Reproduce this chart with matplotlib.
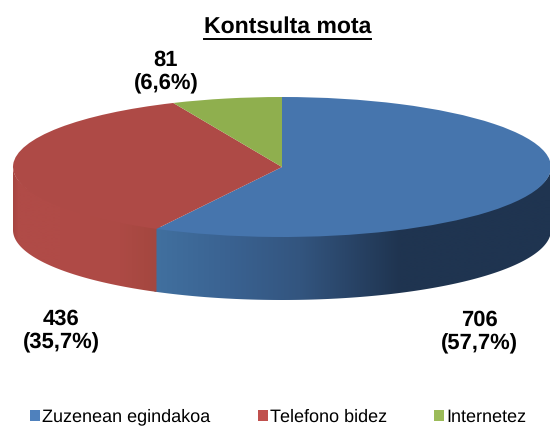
import numpy as np
import matplotlib
matplotlib.use('Agg')
import matplotlib.pyplot as plt
from matplotlib.patches import Polygon, Rectangle

plt.rcParams['font.family'] = ['Liberation Sans', 'DejaVu Sans']
plt.rcParams['text.hinting'] = 'none'
plt.rcParams['text.hinting_factor'] = 1

title = 'Kontsulta mota'
categories = ['Zuzenean egindakoa', 'Telefono bidez', 'Internetez']
values = [706, 436, 81]
top_colors = ['#4675AD', '#AE4A46', '#8FAF4E']
legend_colors = ['#4F81BD', '#C0504D', '#9BBB59']

# ellipse geometry in pixels
cx, cy = 282, 167
rx, ry = 269, 70
depth = 63 / ry

fig = plt.figure(figsize=(5.5, 4.26), dpi=100)
ax = fig.add_axes([0, 0, 1, 1])

wedges, _ = ax.pie(values, colors=top_colors, startangle=90, counterclock=False,
                   radius=1, center=(0, 0), wedgeprops={'linewidth': 0, 'zorder': 5})
ax.set_aspect('auto')


# px position on figure -> data units
def px(x):
    return (x - cx) / rx


def py(y):
    return (cy - y) / ry


# side wall gradients: (x pixel, rgb) stops per slice
side_stops = [
    ([156, 230, 300, 400, 550], ['#41709F', '#3A6291', '#33557F', '#1F3450', '#1F3450']),
    ([12, 18, 60, 120, 156], ['#A5443F', '#B04B47', '#B04B47', '#AD4A45', '#A4473F']),
]

total = sum(values)
start = 0.0
for i, v in enumerate(values[:2]):
    a0 = start
    a1 = start + v / total * 360
    start = a1
    # only the front half of the cake shows its wall
    lo = max(a0, 90)
    hi = min(a1, 270)
    if i == 0:
        hi += 0.5  # runs under the red wall so no seam shows
    t = np.radians(np.linspace(lo, hi, 200))
    xs = np.sin(t)
    ys = np.cos(t)
    # top arc pulled slightly inside so it sits under the pie top
    pts = np.r_[np.c_[xs, ys * 0.96], np.c_[xs, ys - depth][::-1]]
    poly = Polygon(pts, closed=True, facecolor='none', edgecolor='none', transform=ax.transData)
    ax.add_patch(poly)
    stops_x, stops_c = side_stops[i]
    rgb = np.array([matplotlib.colors.to_rgb(c) for c in stops_c])
    gx = np.arange(0, 551)
    grad = np.stack([np.interp(gx, stops_x, rgb[:, k]) for k in range(3)], axis=-1)[None, :, :]
    im = ax.imshow(grad, extent=(px(0), px(550), py(310), py(90)), aspect='auto', zorder=2 + i,
                   interpolation='bilinear')
    im.set_clip_path(poly)

ax.set_xlim(px(0), px(550))
ax.set_ylim(py(426), py(0))
ax.axis('off')


def tx(x, y, s, **kw):
    return ax.text(px(x), py(y), s, ha='center', va='center', **kw)


t = tx(287.5, 27, title, fontsize=16.8, fontweight='bold', color='black')
fig.canvas.draw()
bb = t.get_window_extent()
ax.plot([px(bb.x0), px(bb.x1)], [py(39), py(39)], color='black', lw=1.4, zorder=6)

# value labels
label_pos = [(479, 332), (61, 331), (166, 72)]
for (lx, ly), v in zip(label_pos, values):
    pct = f'{v / total * 100:.1f}'.replace('.', ',')
    tx(lx, ly, f'{v}\n({pct}%)', fontsize=15.8, fontweight='bold', color='black', linespacing=1.25)

# one legend per entry, the gaps in the picture are not even
legend_x = [30, 258, 434]
for lx, name, c in zip(legend_x, categories, legend_colors):
    leg = fig.legend([Rectangle((0, 0), 1, 1, facecolor=c)], [name], loc='center left',
                     bbox_to_anchor=(lx / 550, 1 - 417 / 426), frameon=False, fontsize=13,
                     handlelength=0.58, handleheight=0.58, handletextpad=0.08,
                     borderpad=0, borderaxespad=0)

fig.savefig('out.png', dpi=100)
